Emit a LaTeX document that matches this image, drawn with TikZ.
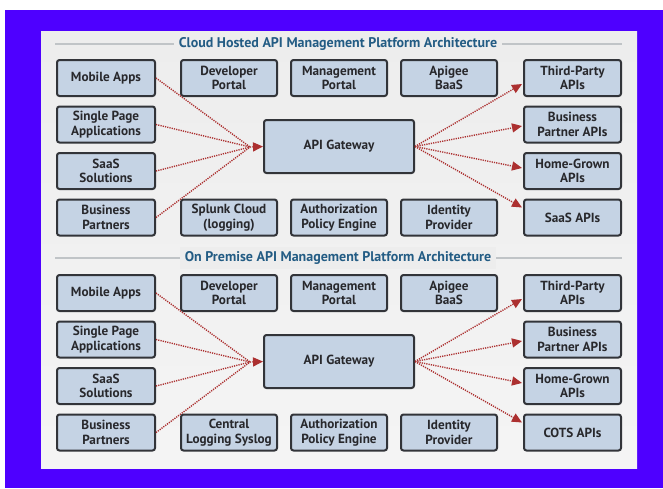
\documentclass[tikz,border=0pt]{standalone}
\usepackage{fontspec}
\setmainfont{PT Sans}
\usetikzlibrary{arrows.meta,calc}
\definecolor{bluebg}{RGB}{78,0,255}
\definecolor{panel}{RGB}{237,237,237}
\definecolor{boxfill}{RGB}{197,211,228}
\definecolor{boxline}{RGB}{50,52,57}
\definecolor{titlecol}{RGB}{35,92,132}
\definecolor{arrowred}{RGB}{172,48,48}
\definecolor{rulegray}{RGB}{192,196,199}
\definecolor{boxtext}{RGB}{40,40,44}
\tikzset{
  apibox/.style={draw=boxline, line width=2pt, fill=boxfill, rounded corners=2.5pt,
    minimum width=96pt, minimum height=36pt, inner sep=0pt, align=center,
    text=boxtext, font=\bfseries\fontsize{13.2}{14.5}\selectfont},
  gwbox/.style={apibox, minimum width=150pt, minimum height=53pt},
  flow/.style={draw=arrowred, line width=1.4pt, dash pattern=on 1.2pt off 1.1pt},
  flowtip/.style={flow, -{Triangle[length=10pt,width=9pt]}, arrowred},
  secttitle/.style={fill=panel, inner sep=5pt, text=titlecol, font=\bfseries\fontsize{14}{16}\selectfont},
  secrule/.style={draw=rulegray, line width=1.4pt}
}
\begin{document}
\begin{tikzpicture}[x=1pt,y=-1pt]
\useasboundingbox (0,0) rectangle (663,488);
\fill[white] (0,0) rectangle (663,488);
\fill[bluebg] (5,10) rectangle (663,488);
\shade[top color=panel, bottom color=panel!60!white] (41,31) rectangle (637,468);

% ---------- Cloud section ----------
\coordinate (r1l) at (55,44);
\coordinate (r1r) at (622,44);
\draw[secrule] (r1l) -- (r1r);
\node[secttitle] (t1) at (338,44) {Cloud Hosted API Management Platform Architecture};

\node[apibox, minimum width=98pt] (a1) at (106,78) {Mobile Apps};
\node[apibox, minimum width=98pt] (a2) at (106,124.5) {Single Page\\Applications};
\node[apibox, minimum width=98pt] (a3) at (106,171) {SaaS\\Solutions};
\node[apibox, minimum width=98pt] (a4) at (106,217.5) {Business\\Partners};

\node[apibox] (b1) at (229,78) {Developer\\Portal};
\node[apibox] (c1) at (339,78) {Management\\Portal};
\node[apibox] (d1) at (449,78) {Apigee\\BaaS};
\node[apibox] (b4) at (229,217.5) {Splunk Cloud\\(logging)};
\node[apibox] (c4) at (339,217.5) {Authorization\\Policy Engine};
\node[apibox] (d4) at (449,217.5) {Identity\\Provider};

\node[gwbox] (g) at (339,146.5) {API Gateway};

\node[apibox, minimum width=97pt] (e1) at (572.5,78) {Third-Party\\APIs};
\node[apibox, minimum width=97pt] (e2) at (572.5,124.5) {Business\\Partner APIs};
\node[apibox, minimum width=97pt] (e3) at (572.5,171) {Home-Grown\\APIs};
\node[apibox, minimum width=97pt] (e4) at (572.5,217.5) {SaaS APIs};

\coordinate (cl) at (250,147);
\foreach \n in {a1,a2,a3,a4} \draw[flow] (\n.east) -- (cl);
\draw[flowtip] (cl) -- (g.west);
\draw[flowtip] (g.east) -- ($(e1.west)+(-1,6)$);
\draw[flowtip] (g.east) -- ($(e2.west)+(-1,1.5)$);
\draw[flowtip] (g.east) -- ($(e3.west)+(-1,-3)$);
\draw[flowtip] (g.east) -- ($(e4.west)+(-1,-10)$);

% ---------- On premise section ----------
\coordinate (r2l) at (55,258);
\coordinate (r2r) at (622,258);
\draw[secrule] (r2l) -- (r2r);
\node[secttitle] (t2) at (338,258) {On Premise API Management Platform Architecture};

\node[apibox, minimum width=98pt] (p1) at (106,293) {Mobile Apps};
\node[apibox, minimum width=98pt] (p2) at (106,339.5) {Single Page\\Applications};
\node[apibox, minimum width=98pt] (p3) at (106,386) {SaaS\\Solutions};
\node[apibox, minimum width=98pt] (p4) at (106,432.5) {Business\\Partners};

\node[apibox] (q1) at (229,293) {Developer\\Portal};
\node[apibox] (s1) at (339,293) {Management\\Portal};
\node[apibox] (u1) at (449,293) {Apigee\\BaaS};
\node[apibox] (q4) at (229,432.5) {Central\\Logging Syslog};
\node[apibox] (s4) at (339,432.5) {Authorization\\Policy Engine};
\node[apibox] (u4) at (449,432.5) {Identity\\Provider};

\node[gwbox] (h) at (339,361.5) {API Gateway};

\node[apibox, minimum width=97pt] (v1) at (572.5,293) {Third-Party\\APIs};
\node[apibox, minimum width=97pt] (v2) at (572.5,339.5) {Business\\Partner APIs};
\node[apibox, minimum width=97pt] (v3) at (572.5,386) {Home-Grown\\APIs};
\node[apibox, minimum width=97pt] (v4) at (572.5,432.5) {COTS APIs};

\coordinate (cm) at (250,362);
\foreach \n in {p1,p2,p3,p4} \draw[flow] (\n.east) -- (cm);
\draw[flowtip] (cm) -- (h.west);
\draw[flowtip] (h.east) -- ($(v1.west)+(-1,6)$);
\draw[flowtip] (h.east) -- ($(v2.west)+(-1,1.5)$);
\draw[flowtip] (h.east) -- ($(v3.west)+(-1,-3)$);
\draw[flowtip] (h.east) -- ($(v4.west)+(-1,-10)$);
\end{tikzpicture}
\end{document}
